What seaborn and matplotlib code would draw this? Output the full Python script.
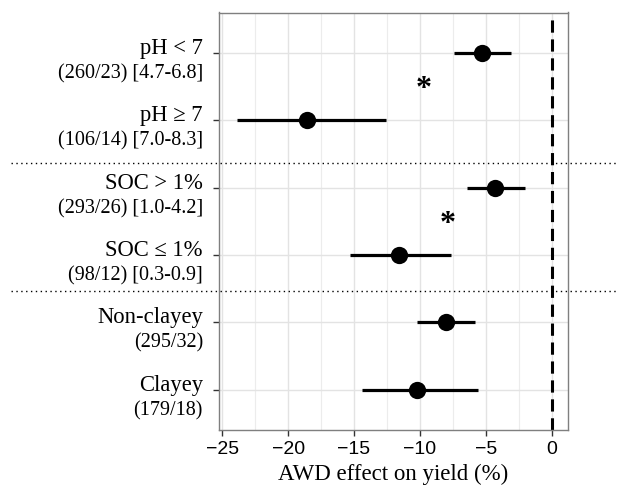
import seaborn as sns
import matplotlib.pyplot as plt
import pandas as pd
from matplotlib.transforms import blended_transform_factory

# data
groups = ['pH < 7', 'pH \u2265 7', 'SOC > 1%', 'SOC \u2264 1%', 'Non-clayey', 'Clayey']
sublabels = ['(260/23) [4.7-6.8]', '(106/14) [7.0-8.3]', '(293/26) [1.0-4.2]',
             '(98/12) [0.3-0.9]', '(295/32)', '(179/18)']
effect = [-5.3, -18.6, -4.3, -11.6, -8.0, -10.2]
ci_low = [-7.4, -23.9, -6.4, -15.3, -10.2, -14.4]
ci_high = [-3.1, -12.6, -2.0, -7.6, -5.8, -5.6]
star_x = [-9.7, -7.9]
star_y = [0.46, 2.47]
sep_y = [1.63, 3.54]

df = pd.DataFrame({'group': groups, 'effect': effect, 'lo': ci_low, 'hi': ci_high})
df['pos'] = range(len(groups))

sns.set_theme(style='whitegrid')
plt.rcParams['font.family'] = ['Liberation Serif', 'DejaVu Serif']
plt.rcParams['text.color'] = 'black'
plt.rcParams['axes.labelcolor'] = 'black'

fig = plt.figure(figsize=(6.23, 4.88), dpi=100)
ax = fig.add_axes([219 / 623, 1 - 430 / 488, 349 / 623, 417.5 / 488])

ax.hlines(df['pos'], df['lo'], df['hi'], color='black', lw=2.3, zorder=3)
sns.scatterplot(data=df, x='effect', y='pos', color='black', s=155, edgecolor='black',
                linewidth=0, zorder=4, ax=ax, legend=False)
ax.axvline(0, color='black', lw=2.2, ls=(0, (4, 2.2)), zorder=2)

for x, y in zip(star_x, star_y):
    ax.text(x, y + 0.08, '*', fontsize=23, ha='center', va='center', fontweight='bold')

ax.set_xlim(-25.25, 1.25)
ax.set_ylim(5.6, -0.6)
ax.set_xticks([-25, -20, -15, -10, -5, 0])
ax.set_xticks([-22.5, -17.5, -12.5, -7.5, -2.5], minor=True)
ax.set_xticklabels(['\u221225', '\u221220', '\u221215', '\u221210', '\u22125', '0'],
                   family='Liberation Sans', fontsize=14, color='black')
ax.set_yticks(df['pos'])
ax.set_yticklabels([])
ax.grid(True, which='major', color='#e3e3e3', lw=1)
ax.grid(True, which='minor', axis='x', color='#ececec', lw=0.8)
ax.tick_params(axis='both', which='major', length=4, width=1, color='#333333',
               direction='out', bottom=True, left=True, pad=4)
ax.tick_params(axis='x', which='minor', length=0)
for s in ax.spines.values():
    s.set_color('#7f7f7f')
    s.set_linewidth(1)

trans = blended_transform_factory(ax.transAxes, ax.transData)
for i, (g, sub) in enumerate(zip(groups, sublabels)):
    ax.text(-0.046, i + 0.09, g, transform=trans, ha='right', va='bottom', fontsize=16.3)
    ax.text(-0.046, i + 0.17, sub, transform=trans, ha='right', va='top', fontsize=14.5)

ax.set_xlabel('AWD effect on yield (%)', fontsize=16.5, labelpad=4)
ax.set_ylabel('')

ftrans = blended_transform_factory(fig.transFigure, ax.transData)
for y in sep_y:
    ax.plot([11 / 623, 618 / 623], [y, y], transform=ftrans, color='black', lw=1,
            ls=(0, (1, 2.5)), clip_on=False, zorder=5)

fig.savefig('out.png', dpi=100)
